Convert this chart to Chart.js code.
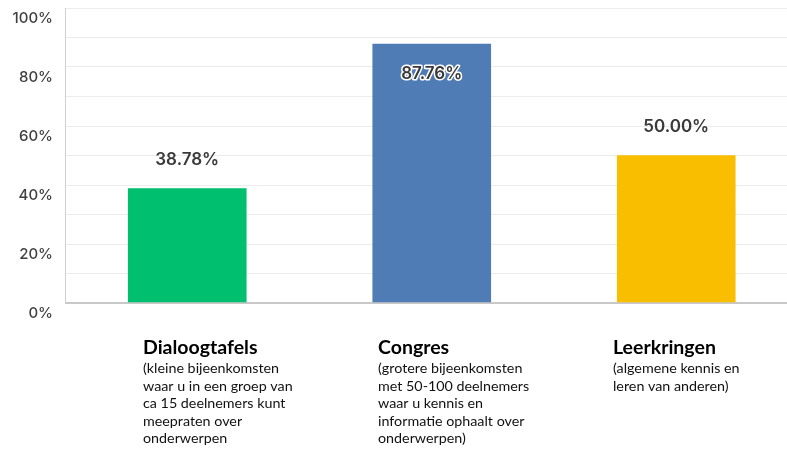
<!DOCTYPE html>
<html>
<head>
<meta charset="utf-8">
<script src="https://cdn.jsdelivr.net/npm/chart.js@4"></script>
<style>
  html, body { margin: 0; padding: 0; background: #ffffff; }
  canvas { display: block; }
</style>
</head>
<body>
<canvas id="c" width="787" height="451"></canvas>
<script>
const categories = ['Dialoogtafels', 'Congres', 'Leerkringen'];
const descriptions = [
  ['(kleine bijeenkomsten', 'waar u in een groep van', 'ca 15 deelnemers kunt', 'meepraten over', 'onderwerpen'],
  ['(grotere bijeenkomsten', 'met 50-100 deelnemers', 'waar u kennis en', 'informatie ophaalt over', 'onderwerpen)'],
  ['(algemene kennis en', 'leren van anderen)']
];
const values = [38.78, 87.76, 50.00];
const yTickValues = [0, 20, 40, 60, 80, 100];
const barColors = ['#00BF6F', '#507CB6', '#F9BE00'];

const valueLabels = {
  id: 'valueLabels',
  afterDatasetsDraw(chart) {
    const ctx = chart.ctx;
    const meta = chart.getDatasetMeta(0);
    ctx.save();
    ctx.font = '600 17px Inter';
    ctx.textAlign = 'center';
    ctx.textBaseline = 'middle';
    meta.data.forEach((bar, i) => {
      const txt = values[i].toFixed(2) + '%';
      const above = bar.y - 29;
      if (above < chart.chartArea.top + 12) {
        const y = bar.y + 30;
        ctx.lineJoin = 'round';
        ctx.lineWidth = 3;
        ctx.strokeStyle = '#ffffff';
        ctx.strokeText(txt, bar.x, y);
        ctx.fillStyle = '#3a3a3a';
        ctx.fillText(txt, bar.x, y);
      } else {
        ctx.fillStyle = '#3a3a3a';
        ctx.fillText(txt, bar.x, above);
      }
    });
    ctx.restore();
  }
};

const categoryLabels = {
  id: 'categoryLabels',
  afterDraw(chart) {
    const ctx = chart.ctx;
    ctx.save();
    ctx.textAlign = 'left';
    ctx.textBaseline = 'alphabetic';
    categories.forEach((cat, i) => {
      const x = 143 + i * 235;
      ctx.fillStyle = '#000000';
      ctx.font = 'bold 19.5px Lato';
      ctx.fillText(cat, x, 354);
      ctx.font = '14.3px Lato';
      ctx.fillStyle = '#111111';
      descriptions[i].forEach((line, k) => {
        ctx.fillText(line, x, 373 + k * 17.5);
      });
    });
    ctx.restore();
  }
};

new Chart(document.getElementById('c'), {
  type: 'bar',
  data: {
    datasets: [{
      data: values.map((v, i) => ({ x: i, y: v })),
      backgroundColor: barColors,
      borderWidth: 0,
      barThickness: 118
    }]
  },
  options: {
    responsive: false,
    animation: false,
    layout: { padding: { top: 8, bottom: 148, left: 0, right: 0 } },
    plugins: { legend: { display: false }, tooltip: { enabled: false } },
    scales: {
      x: {
        type: 'linear',
        offset: false,
        min: -0.5,
        max: 2.453,
        display: false
      },
      y: {
        min: 0,
        max: 100,
        afterFit: s => { s.width = 65; s.paddingTop = 0; s.paddingBottom = 0; },
        border: { display: true, color: '#cfcfcf', width: 1 },
        grid: {
          color: c => (c.tick && c.tick.value === 0) ? '#c8c8c8' : '#ececec',
          lineWidth: c => (c.tick && c.tick.value === 0) ? 2 : 1,
          drawTicks: false
        },
        ticks: {
          stepSize: 10,
          padding: 12,
          labelOffset: 10,
          color: '#3f3f3f',
          font: { family: 'Inter', size: 15, weight: '500' },
          autoSkip: false,
          callback: v => yTickValues.includes(v) ? v + '%' : ''
        }
      }
    }
  },
  plugins: [valueLabels, categoryLabels]
});
</script>
</body>
</html>
